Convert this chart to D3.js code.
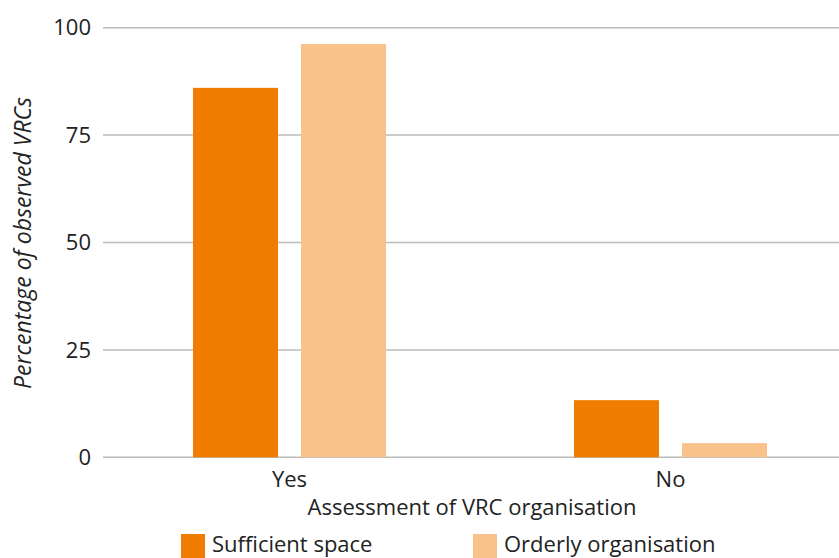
<!DOCTYPE html>
<html>
<head>
<meta charset="utf-8">
<script src="https://cdn.jsdelivr.net/npm/d3@7"></script>
<style>
  body { margin: 0; background: #fff; }
  svg text { font-family: "Open Sans", "Noto Sans", sans-serif; fill: #222; }
</style>
</head>
<body>
<svg id="chart" width="839" height="558"></svg>
<script>
// data
var categories = ["Yes", "No"];
var seriesNames = ["Sufficient space", "Orderly organisation"];
var sufficientSpace = [86, 13.3];
var orderlyOrganisation = [96.2, 3.3];
var yTicks = [0, 25, 50, 75, 100];
var colors = ["#F07D00", "#F9C28B"];

var table = categories.map(function(c, i) {
    return {cat: c, values: [sufficientSpace[i], orderlyOrganisation[i]]};
});

var svg = d3.select("#chart");

var x = d3.scaleBand()
    .domain(categories)
    .range([99, 861]);

var x1 = d3.scaleBand()
    .domain(seriesNames)
    .range([0, x.bandwidth()])
    .paddingInner(0.213)
    .paddingOuter(0.87);

var y = d3.scaleLinear()
    .domain([0, 100])
    .range([457.3, 27.7]);

// gridlines
svg.append("g")
    .selectAll("line")
    .data(yTicks)
    .join("line")
    .attr("x1", 103)
    .attr("x2", 839)
    .attr("y1", d => y(d))
    .attr("y2", d => y(d))
    .attr("stroke", "#bcbcbc")
    .attr("stroke-width", 1.5);

// y tick labels
svg.append("g")
    .selectAll("text")
    .data(yTicks)
    .join("text")
    .attr("x", 91)
    .attr("y", d => y(d))
    .attr("dy", "0.35em")
    .attr("text-anchor", "end")
    .attr("font-size", 22)
    .text(d => d);

// bars
var group = svg.append("g")
    .selectAll("g")
    .data(table)
    .join("g")
    .attr("transform", d => "translate(" + x(d.cat) + ",0)");

group.selectAll("rect")
    .data(d => d.values.map((v, i) => ({key: seriesNames[i], value: v, i: i})))
    .join("rect")
    .attr("x", d => x1(d.key))
    .attr("width", x1.bandwidth())
    .attr("y", d => y(d.value))
    .attr("height", d => y(0) - y(d.value))
    .attr("fill", d => colors[d.i]);

// x tick labels
svg.append("g")
    .selectAll("text")
    .data(categories)
    .join("text")
    .attr("x", d => x(d) + x.bandwidth() / 2)
    .attr("y", 487)
    .attr("text-anchor", "middle")
    .attr("font-size", 22)
    .text(d => d);

// axis titles
svg.append("text")
    .attr("x", 472)
    .attr("y", 515)
    .attr("text-anchor", "middle")
    .attr("font-size", 22)
    .text("Assessment of VRC organisation");

svg.append("text")
    .attr("transform", "translate(31,243) rotate(-90)")
    .attr("text-anchor", "middle")
    .attr("font-size", 23)
    .attr("font-style", "italic")
    .text("Percentage of observed VRCs");

// legend
var legendX = [181, 473];
var legend = svg.append("g")
    .selectAll("g")
    .data(seriesNames)
    .join("g")
    .attr("transform", (d, i) => "translate(" + legendX[i] + ",534)");

legend.append("rect")
    .attr("width", 24)
    .attr("height", 24)
    .attr("fill", (d, i) => colors[i]);

legend.append("text")
    .attr("x", 31)
    .attr("y", 18)
    .attr("font-size", 22)
    .text(d => d);
</script>
</body>
</html>
